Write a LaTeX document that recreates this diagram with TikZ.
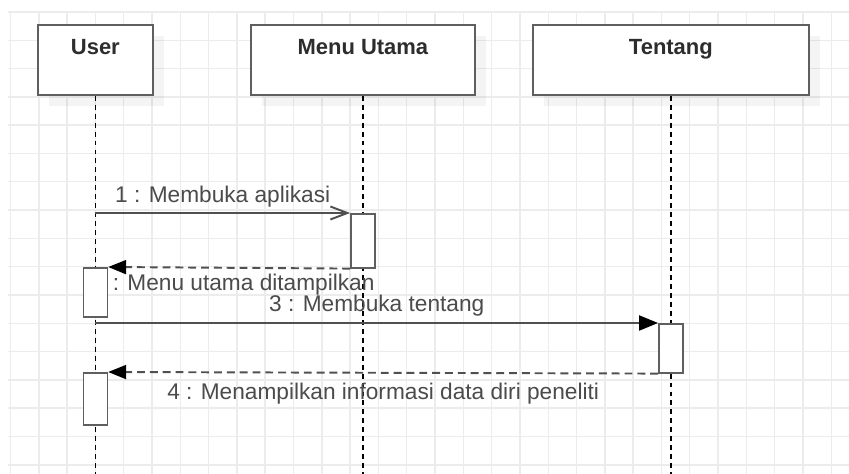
\documentclass[tikz,border=0pt]{standalone}
\usepackage{fontspec}
\setmainfont{Liberation Sans}
\usetikzlibrary{arrows.meta,positioning,shadows}
\usepackage{xcolor}
\definecolor{gridgray}{RGB}{236,236,236}
\definecolor{boxborder}{RGB}{95,95,95}
\definecolor{msgline}{RGB}{80,80,80}
\definecolor{titletext}{RGB}{45,45,45}
\definecolor{labeltext}{RGB}{75,75,75}

\begin{document}
\begin{tikzpicture}[
  gridline/.style={gridgray, line width=0.8pt},
  lifebox/.style={rectangle, draw=boxborder, fill=white, line width=1pt, minimum height=1.4cm, inner sep=0pt,
    drop shadow={shadow xshift=0.22cm, shadow yshift=-0.22cm, fill=black, opacity=0.045}},
  boxtitle/.style={anchor=north, yshift=-0.3cm, inner sep=0pt, text=titletext, font=\bfseries\fontsize{12.5}{15}\selectfont},
  lifeline/.style={black, line width=0.8pt, dash pattern=on 2.8pt off 2.3pt},
  actbox/.style={rectangle, draw=boxborder, fill=white, line width=0.9pt, minimum width=0.48cm, inner sep=0pt, anchor=north},
  msg/.style={msgline, line width=1.1pt},
  reply/.style={msgline, line width=1.1pt, dash pattern=on 4.5pt off 2.8pt, -{Triangle[length=3.6mm,width=2.8mm,color=black]}},
  msglabel/.style={anchor=base, inner sep=0pt, text=labeltext, font=\fontsize{12.9}{15}\selectfont}
]
\useasboundingbox (0,0) rectangle (16.98,-9.48);
\fill[white] (0,0) rectangle (16.98,-9.48);

% background grid
\foreach \i in {0,...,29}
  \draw[gridline] ({0.21+0.566*\i},-0.22) -- ({0.21+0.566*\i},-9.48);
\foreach \j in {0,...,16}
  \draw[gridline] (0.16,{-0.24-0.566*\j}) -- (16.98,{-0.24-0.566*\j});

% objects
\node[lifebox, minimum width=2.3cm, anchor=north west, label={[boxtitle]north:User}] (user) at (0.74,-0.48) {};
\node[lifebox, minimum width=4.48cm, anchor=north west, label={[boxtitle]north:Menu Utama}] (menu) at (5.0,-0.48) {};
\node[lifebox, minimum width=5.52cm, anchor=north west, label={[boxtitle]north:Tentang}] (tentang) at (10.64,-0.48) {};

\coordinate (bottom) at (0,-9.48);
\draw[lifeline] (user.south) -- (user.south |- bottom);
\draw[lifeline] (menu.south) -- (menu.south |- bottom);
\draw[lifeline] (tentang.south) -- (tentang.south |- bottom);

% activations
\node[actbox, minimum height=1.08cm] (mact) at (menu.south |- 0,-4.26) {};
\node[actbox, minimum height=0.98cm] (uact1) at (user.south |- 0,-5.34) {};
\node[actbox, minimum height=0.98cm] (tact) at (tentang.south |- 0,-6.46) {};
\node[actbox, minimum height=1.04cm] (uact2) at (user.south |- 0,-7.44) {};

% messages
\draw[msg, -{Straight Barb[length=3.4mm,width=2.6mm]}] (user.south |- mact.north) -- (mact.north west)
  node[msglabel, pos=0.5, yshift=0.2cm] (lbl1) {1 : Membuka aplikasi};
\draw[reply] (mact.south west) -- (uact1.north east)
  node[msglabel, pos=0.5, xshift=0.29cm, yshift=-0.46cm] (lbl2) {: Menu utama ditampilkan};
\draw[msg, -{Triangle[length=3.8mm,width=3mm,color=black]}] (user.south |- tact.north) -- (tact.north west)
  node[msglabel, pos=0.5, yshift=0.22cm] (lbl3) {3 : Membuka tentang};
\draw[reply] (tact.south west) -- (uact2.north east)
  node[msglabel, pos=0.5, yshift=-0.54cm] (lbl4) {4 : Menampilkan informasi data diri peneliti};
\end{tikzpicture}
\end{document}
